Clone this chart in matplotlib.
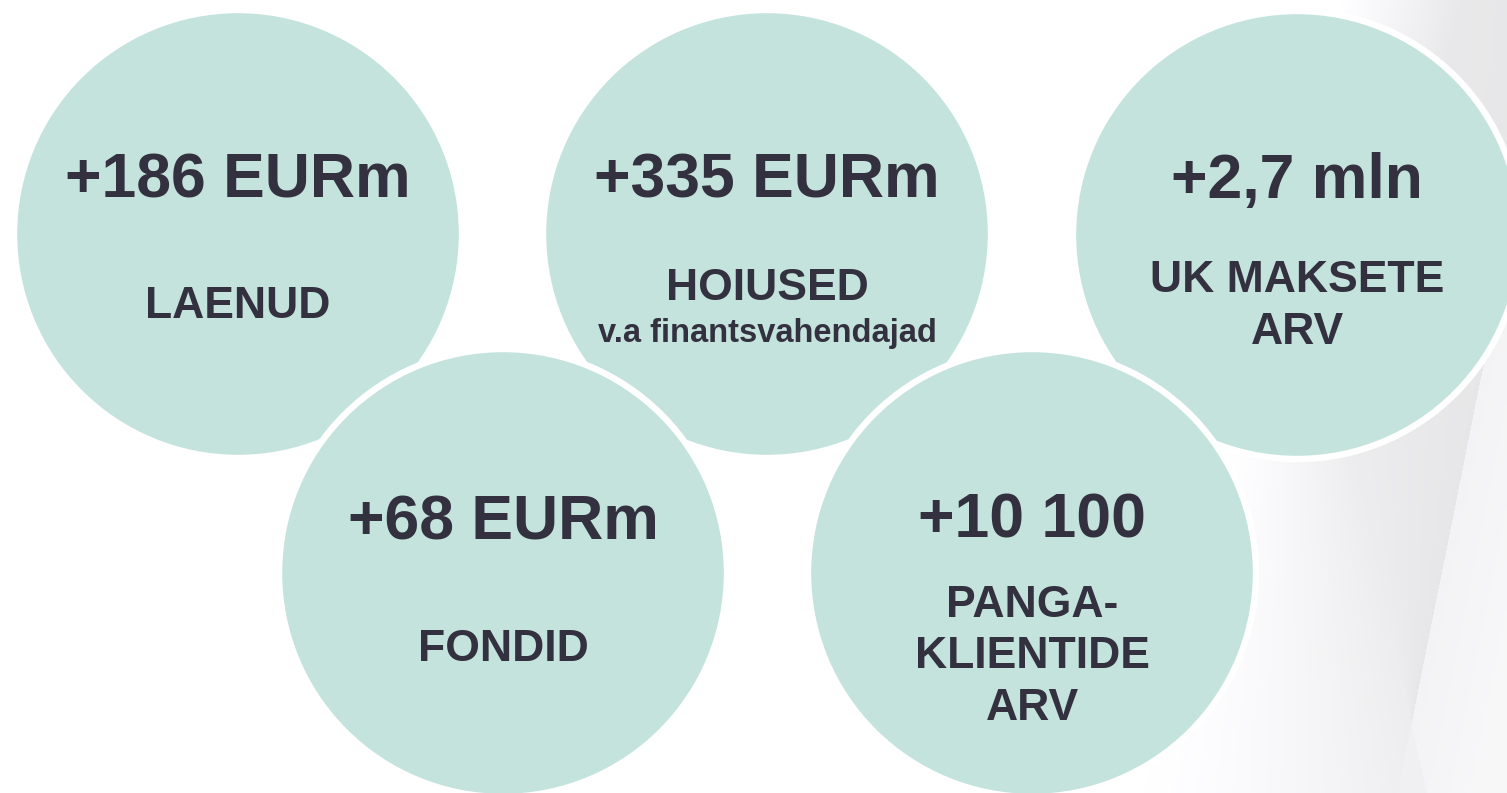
import numpy as np
import matplotlib
matplotlib.use('Agg')
import matplotlib.pyplot as plt
from matplotlib.patches import Circle

# bubble contents
values = ['+186 EURm', '+335 EURm', '+2,7 mln', '+68 EURm', '+10 100']
labels = [['LAENUD'], ['HOIUSED'], ['UK MAKSETE', 'ARV'], ['FONDID'],
          ['PANGA-', 'KLIENTIDE', 'ARV']]
notes = ['', 'v.a finantsvahendajad', '', '', '']

# layout (pixels, y downwards)
W, H = 1507, 793
cx = [238, 767, 1297, 503, 1032]
cy = [234, 234, 235, 573, 573]
radius = 224
value_base = [198, 198, 198, 539, 538]
label_base = [318, 300, 292, 661, 617]
line_step = 51.5
note_base = 342

bubble_col = '#c4e3dc'
text_col = '#33313f'
font = 'Liberation Sans'

# light grey folded background on the right
yy, xx = np.mgrid[0:H, 0:W].astype(float)
line1 = 1350 + (yy - 460) * 77 / 333
line2 = 1480 - (yy - 380) * 83 / 413
start = 1340 - 0.25 * yy
t1 = xx - line1
t2 = xx - line2
dark = np.zeros((H, W))
left = (t1 < 0) & (t2 < 0)
ramp = np.clip((xx - start) / np.maximum(line1 - start, 1), 0, 1)
dark[left] = 0.07 * ramp[left] ** 1.3
mid = (t1 >= 0) & (t2 < 0)
span = np.maximum(line2 - line1, 1)
fade = np.clip((xx - start) / 120, 0, 1)
dark[mid] = ((0.07 + 0.025 * np.clip(t1 / span, 0, 1)) * fade)[mid]
right = (t2 >= 0) & (t1 >= 0)
dark[right] = (0.045 - 0.015 * np.clip(t2 / 80, 0, 1))[right]
low = (t2 >= 0) & (t1 < 0)
dark[low] = 0.055
val = 1 - dark
bg = np.dstack([val, val, np.minimum(val + 0.006, 1)])

fig = plt.figure(figsize=(W / 100, H / 100), dpi=100)
ax = fig.add_axes([0, 0, 1, 1])
ax.imshow(bg, extent=(0, W, H, 0), aspect='auto', zorder=0)
ax.set_xlim(0, W)
ax.set_ylim(H, 0)
ax.axis('off')

for i in range(len(values)):
    ax.add_patch(Circle((cx[i], cy[i]), radius, fc=bubble_col, ec='white',
                        lw=4.6, zorder=1 + i))
    z = 10 + i
    ax.text(cx[i], value_base[i], values[i], ha='center', va='baseline',
            fontsize=45, fontweight='bold', family=font, color=text_col, zorder=z)
    for k, line in enumerate(labels[i]):
        ax.text(cx[i], label_base[i] + k * line_step, line, ha='center',
                va='baseline', fontsize=32, fontweight='bold', family=font,
                color=text_col, zorder=z)
    if notes[i]:
        ax.text(cx[i], note_base, notes[i], ha='center', va='baseline',
                fontsize=23.5, fontweight='bold', family=font, color=text_col,
                zorder=z)

fig.savefig('out.png', dpi=100)
